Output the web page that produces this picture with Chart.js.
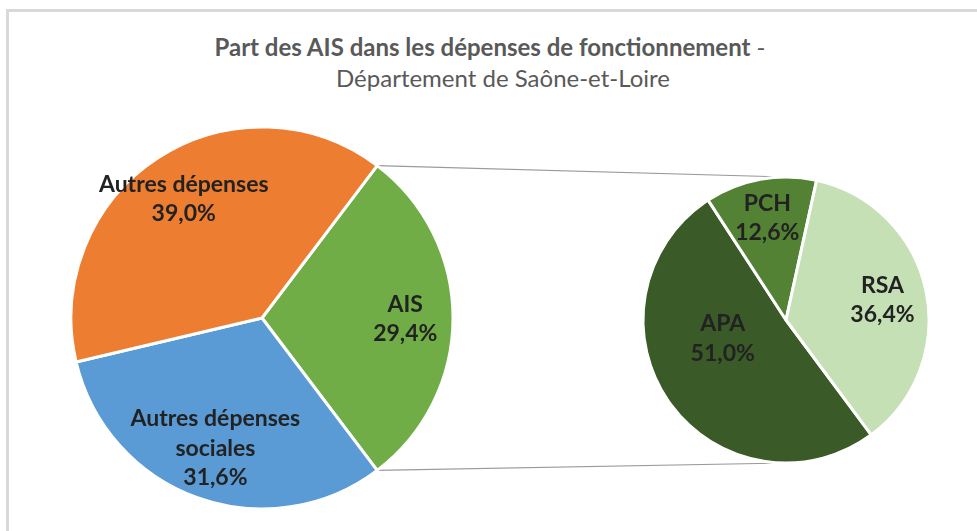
<!DOCTYPE html>
<html lang="fr">
<head>
<meta charset="utf-8">
<title>Part des AIS dans les dépenses de fonctionnement</title>
<script src="https://cdn.jsdelivr.net/npm/chart.js@4.4.1/dist/chart.umd.min.js"></script>
<style>
  html, body { margin: 0; padding: 0; background: #fff; }
  #wrap { position: relative; width: 977px; height: 531px; overflow: hidden; background: #fff; }
  #frame { position: absolute; left: 6px; top: 9px; width: 1100px; height: 700px;
           border-top: 3px solid #d9d9d9; border-left: 3px solid #d9d9d9; }
  .tline { position: absolute; width: 800px; text-align: center; white-space: nowrap;
           font-family: Lato, sans-serif; font-size: 24px; line-height: 31px; color: #595959; }
  .tline b { font-weight: 700; }
  canvas { position: absolute; }
</style>
</head>
<body>
<div id="wrap">
  <div id="frame"></div>
  <div class="tline" style="left:90px;top:31px"><b>Part des AIS dans les dépenses de fonctionnement</b> -</div>
  <div class="tline" style="left:103px;top:62px">Département de Saône-et-Loire</div>
  <canvas id="links" width="977" height="531" style="left:0;top:0"></canvas>
  <canvas id="mainPie" width="400" height="400" style="left:62px;top:118px"></canvas>
  <canvas id="subPie" width="300" height="300" style="left:636px;top:170px"></canvas>
</div>
<script>
// main pie: share of operating expenses (%)
const mainLabels = ["AIS", ["Autres dépenses", "sociales"], "Autres dépenses"];
const mainValues = [29.4, 31.6, 39.0];
const mainColors = ["#70AD47", "#5B9BD5", "#ED7D31"];

// second pie: breakdown of AIS (%)
const subLabels = ["APA", "PCH", "RSA"];
const subValues = [51.0, 12.6, 36.4];
const subColors = ["#3A5A27", "#548235", "#C5E0B4"];

// writes "name / 12,3%" inside each slice
const sliceLabels = {
  id: "sliceLabels",
  afterDatasetsDraw(chart, args, opts) {
    const ctx = chart.ctx;
    const meta = chart.getDatasetMeta(0);
    const values = chart.data.datasets[0].data;
    ctx.save();
    ctx.font = "bold " + opts.size + "px Lato, sans-serif";
    ctx.fillStyle = opts.color;
    ctx.textAlign = "center";
    ctx.textBaseline = "alphabetic";
    meta.data.forEach((arc, i) => {
      const p = arc.getProps(["x", "y", "startAngle", "endAngle", "outerRadius"]);
      const a = (p.startAngle + p.endAngle) / 2 + (opts.shift[i] || 0) * Math.PI / 180;
      const r = p.outerRadius * opts.radius[i];
      const cx = p.x + r * Math.cos(a);
      const cy = p.y + r * Math.sin(a);
      const lines = [].concat(chart.data.labels[i], values[i].toFixed(1).replace(".", ",") + "%");
      const lh = opts.lineHeight;
      lines.forEach((t, k) => {
        ctx.fillText(t, cx, cy - (lines.length - 1) * lh / 2 + k * lh + opts.size * 0.36);
      });
    });
    ctx.restore();
  }
};

function pieConfig(labels, values, colors, radius, rotation, labelOpts) {
  return {
    type: "pie",
    data: {
      labels: labels,
      datasets: [{
        data: values,
        backgroundColor: colors,
        borderColor: "#ffffff",
        borderWidth: 3,
        radius: radius,
        rotation: rotation
      }]
    },
    options: {
      responsive: false,
      animation: false,
      events: [],
      layout: { padding: 0 },
      plugins: {
        legend: { display: false },
        tooltip: { enabled: false },
        sliceLabels: Object.assign({ size: 23, lineHeight: 29.5, color: "#222222" }, labelOpts)
      }
    },
    plugins: [sliceLabels]
  };
}

// AIS slice is centred on the right-hand side
const mainChart = new Chart(document.getElementById("mainPie"),
  pieConfig(mainLabels, mainValues, mainColors, 191, 90 - mainValues[0] * 1.8,
    { radius: [0.75, 0.72, 0.75], shift: [0, 0, 0] }));

const subChart = new Chart(document.getElementById("subPie"),
  pieConfig(subLabels, subValues, subColors, 143, 143.4,
    { radius: [0.46, 0.73, 0.69], shift: [19, 0, 0] }));

// connector lines from the AIS slice to the second pie
function drawLinks() {
  const ctx = document.getElementById("links").getContext("2d");
  const mainCanvas = document.getElementById("mainPie");
  const subCanvas = document.getElementById("subPie");
  const ais = mainChart.getDatasetMeta(0).data[0].getProps(["x", "y", "startAngle", "endAngle", "outerRadius"]);
  const sub = subChart.getDatasetMeta(0).data[0].getProps(["x", "y", "outerRadius"]);
  const ox = mainCanvas.offsetLeft, oy = mainCanvas.offsetTop;
  const sx = subCanvas.offsetLeft + sub.x, sy = subCanvas.offsetTop + sub.y;
  const r = ais.outerRadius;
  ctx.strokeStyle = "#9a9a9a";
  ctx.lineWidth = 1.2;
  ctx.beginPath();
  ctx.moveTo(ox + ais.x + r * Math.cos(ais.startAngle), oy + ais.y + r * Math.sin(ais.startAngle));
  ctx.lineTo(sx, sy - sub.outerRadius);
  ctx.moveTo(ox + ais.x + r * Math.cos(ais.endAngle), oy + ais.y + r * Math.sin(ais.endAngle));
  ctx.lineTo(sx, sy + sub.outerRadius);
  ctx.stroke();
}
drawLinks();
</script>
</body>
</html>
